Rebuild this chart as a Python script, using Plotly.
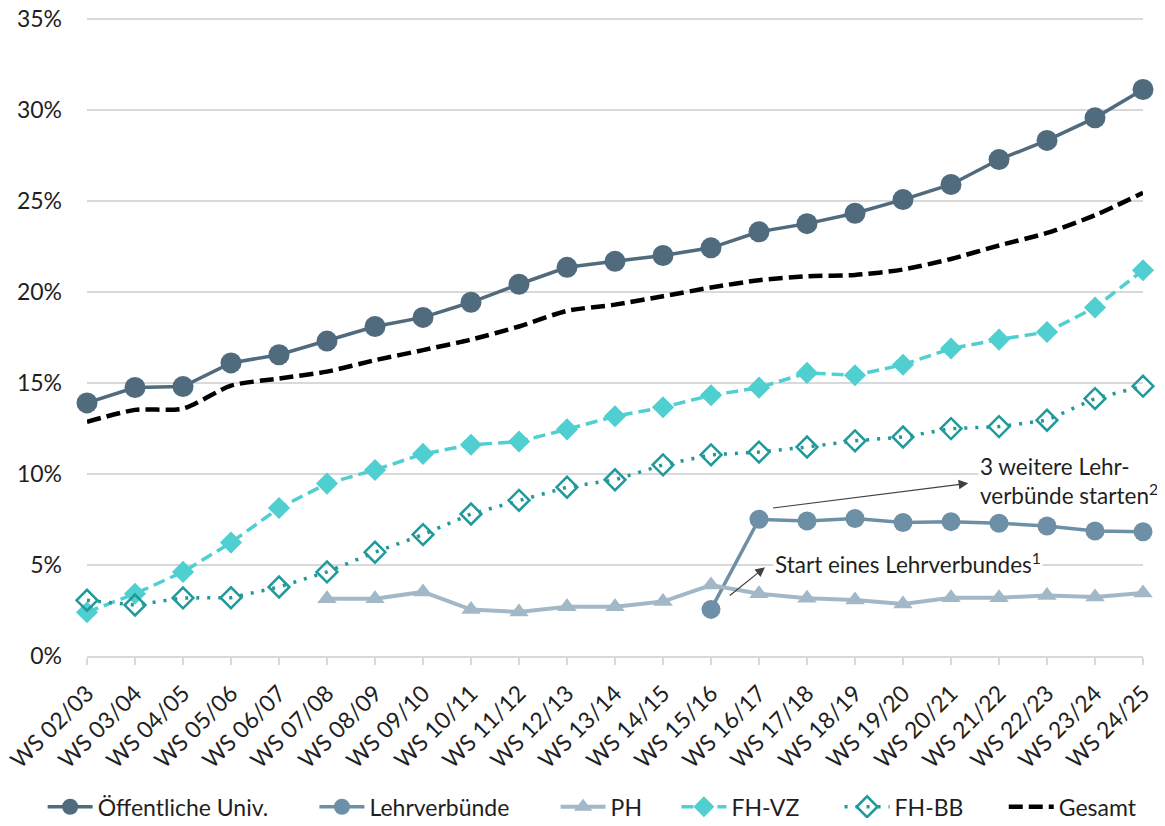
import plotly.graph_objects as go

categories = ["WS 02/03", "WS 03/04", "WS 04/05", "WS 05/06", "WS 06/07", "WS 07/08",
              "WS 08/09", "WS 09/10", "WS 10/11", "WS 11/12", "WS 12/13", "WS 13/14",
              "WS 14/15", "WS 15/16", "WS 16/17", "WS 17/18", "WS 18/19", "WS 19/20",
              "WS 20/21", "WS 21/22", "WS 22/23", "WS 23/24", "WS 24/25"]

oeff_univ = [13.9, 14.75, 14.8, 16.1, 16.55, 17.3, 18.1, 18.6, 19.43, 20.42, 21.35, 21.68,
             22.0, 22.42, 23.3, 23.75, 24.32, 25.07, 25.9, 27.27, 28.32, 29.56, 31.12]
lehrverbuende = [None] * 13 + [2.56, 7.51, 7.42, 7.55, 7.33, 7.38, 7.29, 7.14, 6.87, 6.83]
ph = [None] * 5 + [3.15, 3.15, 3.52, 2.55, 2.42, 2.7, 2.71, 2.99, 3.9, 3.42, 3.17, 3.08,
                   2.86, 3.2, 3.2, 3.33, 3.24, 3.46]
fh_vz = [2.4, 3.42, 4.62, 6.23, 8.13, 9.47, 10.22, 11.1, 11.6, 11.78, 12.45, 13.17, 13.66,
         14.32, 14.74, 15.55, 15.42, 16.0, 16.89, 17.38, 17.8, 19.14, 21.19]
fh_bb = [3.06, 2.8, 3.19, 3.2, 3.79, 4.62, 5.7, 6.67, 7.8, 8.55, 9.27, 9.68, 10.5, 11.05,
         11.2, 11.48, 11.82, 12.03, 12.49, 12.6, 12.95, 14.14, 14.82]
gesamt = [12.86, 13.52, 13.59, 14.85, 15.24, 15.62, 16.25, 16.8, 17.38, 18.1, 18.96, 19.3,
          19.76, 20.24, 20.64, 20.86, 20.93, 21.23, 21.81, 22.55, 23.24, 24.21, 25.44]

y_tick_values = [0, 5, 10, 15, 20, 25, 30, 35]
y_tick_labels = ["0%", "5%", "10%", "15%", "20%", "25%", "30%", "35%"]

FONT = "Lato"
FS = 23
AFS = 22.5
TXT = "#1F1F1F"
GRID = "#D9D9D9"


def pad(n):
    # non-breaking spaces used as spacing between legend entries
    return "\u00a0" * n


fig = go.Figure()

fig.add_trace(go.Scatter(
    x=categories, y=oeff_univ, name="Öffentliche Univ." + pad(7), mode="lines+markers",
    line=dict(color="#506A7E", width=3.5),
    marker=dict(symbol="circle", size=21, color="#506A7E"), cliponaxis=False))
fig.add_trace(go.Scatter(
    x=categories, y=lehrverbuende, name="Lehrverbünde" + pad(7), mode="lines+markers",
    line=dict(color="#6E90A6", width=3.5),
    marker=dict(symbol="circle", size=19, color="#6E90A6"), cliponaxis=False))
fig.add_trace(go.Scatter(
    x=categories, y=ph, name="PH" + pad(5), mode="lines+markers",
    line=dict(color="#A2B8C6", width=4),
    marker=dict(symbol="triangle-up", size=17, color="#A2B8C6"), cliponaxis=False))
fig.add_trace(go.Scatter(
    x=categories, y=fh_vz, name="FH-VZ" + pad(6), mode="lines+markers",
    line=dict(color="#4FCFD0", width=3.5, dash="12px,6px"),
    marker=dict(symbol="diamond", size=17, color="#4FCFD0"), cliponaxis=False))
fig.add_trace(go.Scatter(
    x=categories, y=fh_bb, name="FH-BB" + pad(6), mode="lines+markers",
    line=dict(color="#20999A", width=3.5, dash="3px,8px"),
    marker=dict(symbol="diamond-open", size=16, color="#20999A",
                line=dict(width=2.5, color="#20999A")),
    cliponaxis=False))
fig.add_trace(go.Scatter(
    x=categories, y=gesamt, name="Gesamt", mode="lines",
    line=dict(color="#000000", width=4.5, dash="14px,6px", shape="spline", smoothing=0.7),
    cliponaxis=False))

# Annotation texts (white boxes hide the gridlines behind them)
fig.add_annotation(x=18.57, y=9.62, xref="x", yref="y", xanchor="left", yanchor="middle",
                   text="3 weitere Lehr-<br>verbünde starten<sup>2</sup>", align="left",
                   showarrow=False, bgcolor="white", font=dict(family=FONT, size=AFS, color=TXT))
fig.add_annotation(x=14.3, y=5.1, xref="x", yref="y", xanchor="left", yanchor="middle",
                   text="Start eines Lehrverbundes<sup>1</sup>", align="left",
                   showarrow=False, bgcolor="white", font=dict(family=FONT, size=AFS, color=TXT))
# Arrows
fig.add_annotation(x=18.36, y=9.49, ax=14.26, ay=8.12, xref="x", yref="y", axref="x", ayref="y",
                   text="", showarrow=True, arrowhead=2, arrowsize=1.6, arrowwidth=1.2,
                   arrowcolor="#404040")
fig.add_annotation(x=14.125, y=4.87, ax=13.36, ay=3.26, xref="x", yref="y", axref="x", ayref="y",
                   text="", showarrow=True, arrowhead=2, arrowsize=1.6, arrowwidth=1.2,
                   arrowcolor="#404040")

fig.update_layout(
    width=1149, height=810,
    margin=dict(l=79, r=14, t=9, b=162, pad=0, autoexpand=False),
    paper_bgcolor="white", plot_bgcolor="white",
    font=dict(family=FONT, size=FS, color=TXT),
    showlegend=True,
    legend=dict(orientation="h", x=-0.042, xanchor="left", y=-0.236, yanchor="middle",
                font=dict(family=FONT, size=FS, color=TXT), itemwidth=45,
                tracegroupgap=0, bgcolor="rgba(0,0,0,0)"),
    xaxis=dict(type="category", range=[0, 22], showgrid=False, showline=True,
               linecolor=GRID, linewidth=1.5, ticks="outside", ticklen=7, tickcolor=GRID,
               tickwidth=1.5, tickangle=-45, tickfont=dict(family=FONT, size=FS, color=TXT),
               ticklabelstandoff=6, ticklabeloverflow="allow", automargin=False,
               fixedrange=True),
    yaxis=dict(range=[0, 35.1], tickmode="array", tickvals=y_tick_values,
               ticktext=y_tick_labels, showgrid=True, gridcolor=GRID,
               gridwidth=1.5, zeroline=False, showline=False,
               tickfont=dict(family=FONT, size=FS, color=TXT), ticklabelstandoff=24,
               ticklabeloverflow="allow", automargin=False, fixedrange=True),
)

fig.write_html("out.html")
